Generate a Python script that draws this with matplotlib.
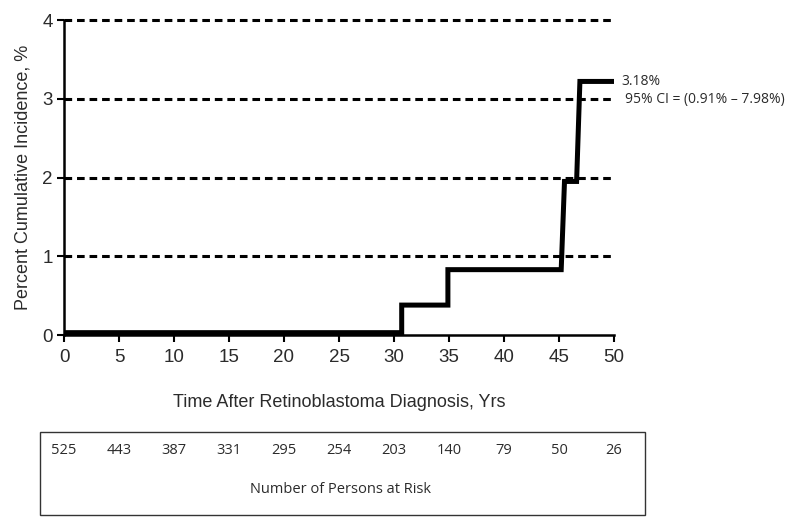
import matplotlib.pyplot as plt
from matplotlib.patches import Rectangle
import matplotlib.transforms as mtransforms

plt.rcParams["font.family"] = ["Liberation Sans", "DejaVu Sans"]

# Step curve vertices (years, percent)
years = [0, 30.7, 30.7, 34.9, 34.9, 45.2, 45.5, 46.6, 46.9, 50]
incidence = [0.03, 0.03, 0.38, 0.38, 0.83, 0.83, 1.95, 1.95, 3.22, 3.22]

ticks_x = [0, 5, 10, 15, 20, 25, 30, 35, 40, 45, 50]
at_risk = [525, 443, 387, 331, 295, 254, 203, 140, 79, 50, 26]

txt = "#2b2b2b"
small_font = ["Open Sans", "DejaVu Sans"]

fig = plt.figure(figsize=(8, 5.28), dpi=100)
ax = fig.add_axes([0.08, 0.3655, 0.6875, 0.5966])

# dashed reference lines
for yv in [1, 2, 3, 4]:
    ax.plot([0, 50], [yv, yv], color="black", lw=2.2, ls=(0, (2.5, 1.6)), clip_on=False, zorder=1)

ax.plot(years, incidence, color="black", lw=3.6, clip_on=False, zorder=3,
        solid_joinstyle="miter", solid_capstyle="butt")

ax.set_xlim(0, 50)
ax.set_ylim(0, 4)
ax.set_xticks(ticks_x)
ax.set_yticks([0, 1, 2, 3, 4])
for s in ["top", "right"]:
    ax.spines[s].set_visible(False)
ax.spines["left"].set_linewidth(1.8)
ax.spines["bottom"].set_linewidth(1.8)
ax.tick_params(axis="both", labelsize=13.5, width=1.5, length=5, direction="out", labelcolor=txt)
ax.tick_params(axis="x", pad=5)
ax.tick_params(axis="y", pad=3)
ax.set_xlabel("Time After Retinoblastoma Diagnosis, Yrs", fontsize=13, labelpad=20, color=txt)
ax.set_ylabel("Percent Cumulative Incidence, %", fontsize=13, labelpad=8, color=txt)

ax.text(50.7, 3.22, "3.18%", fontsize=10, va="center", ha="left", family=small_font, color=txt)
ax.text(51.0, 2.99, "95% CI = (0.91% – 7.98%)", fontsize=10, va="center", ha="left", family=small_font, color=txt)

# number at risk box
box = Rectangle((0.05, 0.0246), 0.756, 0.157, transform=fig.transFigure,
                fill=False, edgecolor="#333333", lw=1.0)
fig.patches.append(box)
trans = mtransforms.blended_transform_factory(ax.transData, fig.transFigure)
for xv, n in zip(ticks_x, at_risk):
    fig.text(xv, 0.146, str(n), transform=trans, ha="center", va="center",
             fontsize=10.5, family=small_font, color=txt)
fig.text(0.425, 0.072, "Number of Persons at Risk", ha="center", va="center",
         fontsize=10.5, family=small_font, color=txt)

fig.savefig("out.png", dpi=100)
